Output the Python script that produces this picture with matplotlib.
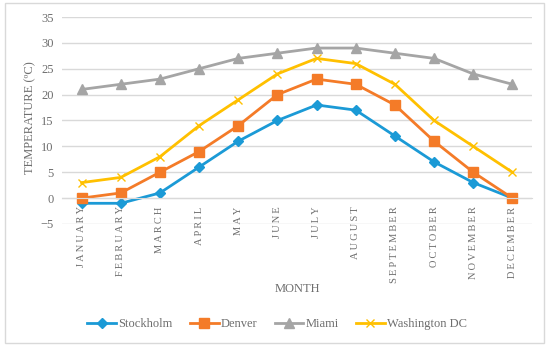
import matplotlib
matplotlib.use('Agg')
import matplotlib.pyplot as plt
from matplotlib.patches import Rectangle

# -------------------------------------------------------------------------------------------------------------------- #
# DATA

months = ['JANUARY', 'FEBRUARY', 'MARCH', 'APRIL', 'MAY', 'JUNE', 'JULY', 'AUGUST',
          'SEPTEMBER', 'OCTOBER', 'NOVEMBER', 'DECEMBER']
stockholm = [-1, -1, 1, 6, 11, 15, 18, 17, 12, 7, 3, 0]
denver = [0, 1, 5, 9, 14, 20, 23, 22, 18, 11, 5, 0]
miami = [21, 22, 23, 25, 27, 28, 29, 29, 28, 27, 24, 22]
washington = [3, 4, 8, 14, 19, 24, 27, 26, 22, 15, 10, 5]
y_ticks = [-5, 0, 5, 10, 15, 20, 25, 30, 35]

# -------------------------------------------------------------------------------------------------------------------- #
# PLOT

plt.rcParams['font.family'] = ['Liberation Serif', 'DejaVu Serif']
text_grey = '#6E6E6E'

fig = plt.figure(figsize=(5.5, 3.47), dpi=100)
ax = fig.add_axes([62 / 550, 1 - 224 / 347, 470 / 550, 207 / 347])

x = list(range(len(months)))
ax.plot(x, stockholm, color='#1B9AD6', lw=2, marker='D', ms=5, label='Stockholm')
ax.plot(x, denver, color='#F47B28', lw=2, marker='s', ms=7, label='Denver')
ax.plot(x, miami, color='#A5A5A5', lw=2, marker='^', ms=7, label='Miami')
ax.plot(x, washington, color='#FFC000', lw=2, marker='x', ms=6, mew=1, label='Washington DC')

ax.set_xlim(-0.5, 11.5)
ax.set_ylim(-5, 35)
ax.set_yticks(y_ticks)
ax.grid(axis='y', color='#D9D9D9', lw=1)
ax.set_axisbelow(True)

for side in ['top', 'right', 'left']:
    ax.spines[side].set_visible(False)
ax.spines['bottom'].set_position(('data', 0))
ax.spines['bottom'].set_color('#D9D9D9')

spaced = ['\u2009'.join(m) for m in months]
ax.set_xticks(x)
ax.set_xticklabels(spaced, rotation=90, va='top', ha='center')
ax.tick_params(axis='x', length=0, pad=6, labelsize=7.5, labelcolor=text_grey)
ax.tick_params(axis='y', length=0, pad=6, labelsize=9, labelcolor=text_grey)

fig.text(297 / 550, 1 - 289 / 347, 'MONTH', ha='center', va='center', fontsize=9, color=text_grey)
fig.text(30 / 550, 1 - 118 / 347, 'TEMPERATURE (ºC)', rotation=90, ha='center', va='center',
         fontsize=9, color=text_grey)

fig.legend(loc='center', bbox_to_anchor=(277 / 550, 1 - 324 / 347), ncol=4, frameon=False,
           fontsize=9, handlelength=2.3, columnspacing=1.4, handletextpad=0.15, labelcolor=text_grey)

fig.patches.append(Rectangle((5 / 550, 4 / 347), 539 / 550, 340 / 347, transform=fig.transFigure,
                             fill=False, edgecolor='#D9D9D9', lw=1))

fig.savefig('out.png', dpi=100)
